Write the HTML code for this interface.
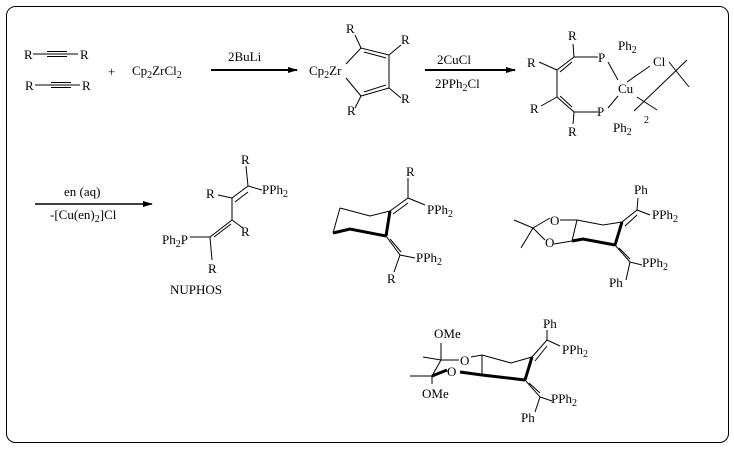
<!DOCTYPE html>
<html><head><style>
html,body{margin:0;padding:0;background:#fff}
svg{display:block}
text{font-family:"Liberation Serif",serif;font-size:13px;fill:#000}
.s{font-size:10px}
</style></head><body>
<svg width="734" height="449" viewBox="0 0 734 449" xmlns="http://www.w3.org/2000/svg">
<defs><marker id="ah" markerWidth="10" markerHeight="6" refX="9" refY="3" orient="auto" markerUnits="userSpaceOnUse"><path d="M0,0 L10,3 L0,6 z" fill="#000"/></marker></defs>
<rect x="6.5" y="6.5" width="722" height="436" rx="9" fill="none" stroke="#000" stroke-width="1"/>
<g stroke="#000" stroke-width="1" fill="none">
<line x1="33" y1="54" x2="78" y2="54"/><line x1="47" y1="51.5" x2="67" y2="51.5"/><line x1="47" y1="56.5" x2="67" y2="56.5"/>
<line x1="35" y1="85" x2="80" y2="85"/><line x1="51" y1="82.5" x2="71" y2="82.5"/><line x1="51" y1="87.5" x2="71" y2="87.5"/>
<line x1="211" y1="70" x2="297" y2="70" stroke-width="2" marker-end="url(#ah)"/>
<line x1="425" y1="70" x2="515" y2="70" stroke-width="2" marker-end="url(#ah)"/>
<line x1="35" y1="204" x2="152" y2="204" stroke-width="1.5" marker-end="url(#ah)"/>
<path d="M346,64 L361,48 L389,55 L389,88 L361,96 L346,78"/>
<line x1="364" y1="52" x2="386" y2="58"/><line x1="364" y1="92" x2="386" y2="85"/>
<line x1="361" y1="48" x2="355" y2="35"/><line x1="361" y1="96" x2="355" y2="108"/>
<line x1="389" y1="55" x2="401" y2="45"/><line x1="389" y1="88" x2="401" y2="98"/>
<path d="M574,57 L598,57 M608,62 L618,80 M618,96 L608,108 M598,112 L574,112 L557,97 L557,70 L574,57"/>
<line x1="572" y1="62" x2="560" y2="72"/><line x1="572" y1="107" x2="560" y2="96"/>
<line x1="574" y1="57" x2="573" y2="44"/><line x1="574" y1="112" x2="573" y2="124"/>
<line x1="557" y1="70" x2="539" y2="62"/><line x1="557" y1="97" x2="541" y2="106"/>
<line x1="627" y1="82" x2="650" y2="66"/>
<line x1="634" y1="111" x2="687" y2="60"/>
<line x1="669" y1="62" x2="689" y2="87"/>
<line x1="637" y1="97" x2="657" y2="110"/>
<path d="M246,166 L248,186 L262,190 M248,186 L232,198 L232,220 L210,237 L190,237 M232,198 L218,195 M232,220 L243,228 M210,237 L212,260"/>
<line x1="246" y1="189" x2="233" y2="199" transform="translate(2,3)"/><line x1="230" y1="221" x2="213" y2="234" transform="translate(1,3)"/>
<path d="M340,208 L370,216 L390,211 M340,208 L333,233"/>
<path d="M333,233 L350,229 L386,236" stroke-width="3"/>
<path d="M390,211 L386,236" stroke-width="3"/>
<path d="M390,211 L408,198 L425,205 M408,198 L408,178 M386,236 L400,255 L415,258 M400,255 L394,272"/>
<line x1="393" y1="214" x2="408" y2="203"/><line x1="390" y1="239" x2="401" y2="252"/>
<path d="M514,220 L533,228 L521,248 M533,228 L550,218 M533,228 L545,240 M560,220 L577,220 L603,225 L622,222 M577,220 L572,241 M554,244 L572,241"/>
<path d="M572,241 L583,239 L615,245" stroke-width="3"/><path d="M622,222 L615,245" stroke-width="3"/>
<path d="M622,222 L637,210 L650,215 M637,210 L638,198 M615,245 L630,262 L642,265 M630,262 L626,280"/>
<line x1="625" y1="226" x2="637" y2="215"/><line x1="619" y1="248" x2="630" y2="259"/>
<path d="M423,357 L441,360 L432,376 L410,376 M441,360 L441,343 M432,376 L432,384 M441,360 L459,360 M471,357 L482,355 L511,363 L532,357 M482,355 L482,375"/>
<path d="M460,372 L482,375 L525,380" stroke-width="3"/><path d="M532,357 L525,380" stroke-width="3"/>
<path d="M432,376 L447,370" stroke-width="3"/>
<path d="M532,357 L547,340 L560,346 M547,340 L547,330 M525,380 L540,397 L552,401 M540,397 L535,412"/>
<line x1="535" y1="361" x2="547" y2="346"/><line x1="529" y1="383" x2="540" y2="393"/>
</g>
<text x="24" y="59">R</text><text x="80" y="59">R</text>
<text x="25" y="90">R</text><text x="82" y="90">R</text>
<text x="108" y="76">+</text>
<text x="132" y="75">Cp<tspan class="s" dy="3">2</tspan><tspan dy="-3">ZrCl</tspan><tspan class="s" dy="3">2</tspan></text>
<text x="228" y="61">2BuLi</text>
<text x="309" y="75">Cp<tspan class="s" dy="3">2</tspan><tspan dy="-3">Zr</tspan></text>
<text x="346" y="33">R</text><text x="347" y="115">R</text><text x="401" y="44">R</text><text x="401" y="103">R</text>
<text x="437" y="64">2CuCl</text>
<text x="435" y="88">2PPh<tspan class="s" dy="3">2</tspan><tspan dy="-3">Cl</tspan></text>
<text x="568" y="40">R</text><text x="527" y="67">R</text><text x="530" y="113">R</text><text x="568" y="136">R</text>
<text x="598" y="62">P</text><text x="597" y="116">P</text>
<text x="618" y="50">Ph<tspan class="s" dy="3">2</tspan></text><text x="613" y="132">Ph<tspan class="s" dy="3">2</tspan></text>
<text x="618" y="93">Cu</text><text x="653" y="66">Cl</text><text x="644" y="123" class="s">2</text>
<text x="64" y="196">en (aq)</text>
<text x="50" y="219">-[Cu(en)<tspan class="s" dy="3">2</tspan><tspan dy="-3">]Cl</tspan></text>
<text x="241" y="164">R</text><text x="262" y="194">PPh<tspan class="s" dy="3">2</tspan></text>
<text x="206" y="198">R</text><text x="241" y="236">R</text>
<text x="162" y="244">Ph<tspan class="s" dy="3">2</tspan><tspan dy="-3">P</tspan></text>
<text x="208" y="273">R</text><text x="170" y="294">NUPHOS</text>
<text x="406" y="176">R</text><text x="427" y="214">PPh<tspan class="s" dy="3">2</tspan></text>
<text x="416" y="262">PPh<tspan class="s" dy="3">2</tspan></text><text x="387" y="283">R</text>
<text x="550" y="225">O</text><text x="545" y="247">O</text>
<text x="634" y="194">Ph</text><text x="652" y="219">PPh<tspan class="s" dy="3">2</tspan></text>
<text x="642" y="267">PPh<tspan class="s" dy="3">2</tspan></text><text x="609" y="287">Ph</text>
<text x="434" y="338">OMe</text><text x="422" y="398">OMe</text>
<text x="460" y="365">O</text><text x="447" y="376">O</text>
<text x="543" y="328">Ph</text><text x="562" y="354">PPh<tspan class="s" dy="3">2</tspan></text>
<text x="551" y="403">PPh<tspan class="s" dy="3">2</tspan></text><text x="521" y="422">Ph</text>
</svg>
</body></html>
